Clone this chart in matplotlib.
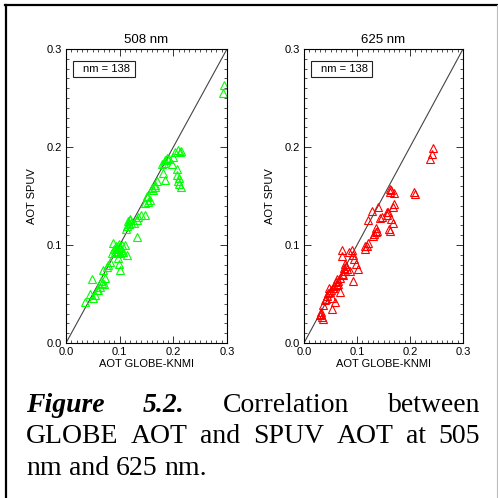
#import libraries
import numpy as np
import matplotlib.pyplot as plt
from matplotlib.ticker import MultipleLocator, FixedLocator
from matplotlib.patches import Rectangle
from matplotlib.lines import Line2D

plt.rcParams['font.family'] = ['Liberation Sans', 'DejaVu Sans']

#data: AOT GLOBE-KNMI (x) vs AOT SPUV (y)
green_x = [0.295, 0.293, 0.209, 0.212, 0.203, 0.200, 0.191, 0.184, 0.179, 0.197,
           0.206, 0.181, 0.184, 0.206, 0.209, 0.214, 0.211, 0.169, 0.166, 0.163,
           0.150, 0.147, 0.153, 0.157, 0.148, 0.135, 0.132, 0.122, 0.116, 0.113,
           0.120, 0.112, 0.126, 0.132, 0.088, 0.094, 0.097, 0.100, 0.092, 0.104,
           0.110, 0.113, 0.107, 0.085, 0.082, 0.096, 0.098, 0.100, 0.076, 0.069,
           0.079, 0.073, 0.066, 0.063, 0.060, 0.054, 0.048, 0.051, 0.035, 0.057,
           0.045, 0.099, 0.095, 0.101, 0.093, 0.098, 0.102, 0.090, 0.182, 0.188,
           0.117, 0.119, 0.151, 0.166, 0.070, 0.067, 0.214, 0.210, 0.160, 0.139]
green_y = [0.263, 0.255, 0.197, 0.195, 0.195, 0.190, 0.188, 0.187, 0.183, 0.183,
           0.178, 0.173, 0.166, 0.171, 0.165, 0.159, 0.162, 0.165, 0.159, 0.156,
           0.149, 0.143, 0.144, 0.146, 0.131, 0.129, 0.125, 0.122, 0.124, 0.119,
           0.127, 0.116, 0.122, 0.108, 0.102, 0.097, 0.094, 0.092, 0.093, 0.100,
           0.100, 0.090, 0.093, 0.092, 0.083, 0.087, 0.081, 0.074, 0.078, 0.074,
           0.080, 0.066, 0.063, 0.057, 0.054, 0.049, 0.065, 0.046, 0.042, 0.054,
           0.050, 0.098, 0.096, 0.097, 0.099, 0.101, 0.095, 0.096, 0.184, 0.189,
           0.121, 0.126, 0.150, 0.161, 0.060, 0.061, 0.196, 0.168, 0.158, 0.131]

red_x = [0.243, 0.241, 0.238, 0.208, 0.210, 0.165, 0.169, 0.162, 0.169, 0.167,
         0.159, 0.156, 0.165, 0.167, 0.162, 0.140, 0.128, 0.121, 0.147, 0.144,
         0.137, 0.131, 0.133, 0.121, 0.115, 0.118, 0.071, 0.071, 0.090, 0.093,
         0.085, 0.099, 0.102, 0.081, 0.077, 0.074, 0.087, 0.093, 0.068, 0.065,
         0.062, 0.068, 0.055, 0.049, 0.052, 0.058, 0.040, 0.036, 0.052, 0.033,
         0.030, 0.036, 0.034, 0.157, 0.135, 0.079, 0.076, 0.063, 0.060, 0.057,
         0.054, 0.050, 0.046, 0.043, 0.078, 0.072, 0.064, 0.047, 0.041, 0.032,
         0.095, 0.163, 0.161, 0.136, 0.116]
red_y = [0.199, 0.193, 0.188, 0.154, 0.152, 0.156, 0.153, 0.154, 0.142, 0.139,
         0.134, 0.131, 0.127, 0.122, 0.114, 0.139, 0.135, 0.125, 0.129, 0.128,
         0.114, 0.109, 0.111, 0.102, 0.096, 0.099, 0.095, 0.089, 0.095, 0.090,
         0.093, 0.081, 0.076, 0.076, 0.073, 0.069, 0.073, 0.063, 0.066, 0.063,
         0.059, 0.052, 0.056, 0.052, 0.046, 0.042, 0.044, 0.039, 0.035, 0.032,
         0.029, 0.025, 0.027, 0.134, 0.117, 0.079, 0.077, 0.065, 0.062, 0.058,
         0.056, 0.054, 0.051, 0.048, 0.081, 0.070, 0.060, 0.056, 0.045, 0.030,
         0.086, 0.157, 0.116, 0.113, 0.099]

titles = ['508 nm', '625 nm']
nm_label = 'nm = 138'
major_ticks = [0.0, 0.1, 0.2, 0.3]

fig = plt.figure(figsize=(4.98, 4.98), dpi=100)
W = 498.0

def make_panel(left, width, x, y, color, title):
    ax = fig.add_axes([left / W, 155 / W, width / W, 294 / W])
    ax.plot([0, 0.3], [0, 0.3], color='#444444', lw=0.8)
    ax.plot(x, y, '^', mfc='none', mec=color, ms=5.5, mew=0.8, linestyle='none')
    ax.set_xlim(0, 0.3)
    ax.set_ylim(0, 0.3)
    ax.xaxis.set_major_locator(FixedLocator(major_ticks))
    ax.yaxis.set_major_locator(FixedLocator(major_ticks))
    ax.xaxis.set_minor_locator(MultipleLocator(0.01))
    ax.yaxis.set_minor_locator(MultipleLocator(0.01))
    ax.set_xticklabels(['%.1f' % t for t in major_ticks])
    ax.set_yticklabels(['%.1f' % t for t in major_ticks])
    ax.tick_params(which='both', direction='in', top=True, right=True, labelsize=8, pad=3,
                   color='#333333')
    ax.tick_params(which='major', length=5, width=0.7)
    ax.tick_params(which='minor', length=2.5, width=0.6)
    for s in ax.spines.values():
        s.set_linewidth(0.8)
    ax.set_xlabel('AOT GLOBE-KNMI', fontsize=8, labelpad=1)
    ax.set_ylabel('AOT SPUV', fontsize=8, labelpad=7)
    ax.set_title(title, fontsize=9.5, pad=4)
    ax.add_patch(Rectangle((0.043, 0.905), 0.387, 0.054, transform=ax.transAxes,
                           fill=False, lw=0.8, ec='#222222'))
    ax.text(0.40, 0.932, nm_label, transform=ax.transAxes, ha='right', va='center', fontsize=8)
    return ax

make_panel(66, 161, green_x, green_y, (0, 1, 0), titles[0])
make_panel(304, 159, red_x, red_y, (1, 0, 0), titles[1])

#frame around the figure
fig.add_artist(Line2D([5 / W, 1], [1 - 5 / W, 1 - 5 / W], color='black', lw=1.6, transform=fig.transFigure))
fig.add_artist(Line2D([6 / W, 6 / W], [0, 1 - 5 / W], color='black', lw=1.6, transform=fig.transFigure))
fig.add_artist(Line2D([497 / W, 497 / W], [0, 1 - 5 / W], color='#bbbbbb', lw=0.8, transform=fig.transFigure))

#caption, justified like the source page
serif = 'Liberation Serif'
fs = 20
lines = [
    [('Figure', True), ('5.2.', True), ('Correlation', False), ('between', False)],
    [(w, False) for w in 'GLOBE AOT and SPUV AOT at 505'.split()],
    [(w, False) for w in 'nm and 625 nm.'.split()],
]
baselines = [412, 443, 475]
x0, x1 = 26, 480
renderer = fig.canvas.get_renderer()
for li, words in enumerate(lines):
    ypos = 1 - baselines[li] / W
    texts = []
    for w, bold in words:
        t = fig.text(0, ypos, w, fontsize=fs, family=serif, va='baseline',
                     fontweight='bold' if bold else 'normal',
                     fontstyle='italic' if bold else 'normal')
        texts.append(t)
    widths = [t.get_window_extent(renderer).width for t in texts]
    if li < 2:
        gap = (x1 - x0 - sum(widths)) / (len(texts) - 1)
    else:
        gap = 7
    pos = x0
    for t, wd in zip(texts, widths):
        t.set_x(pos / W)
        pos += wd + gap

fig.savefig('out.png', dpi=100)
